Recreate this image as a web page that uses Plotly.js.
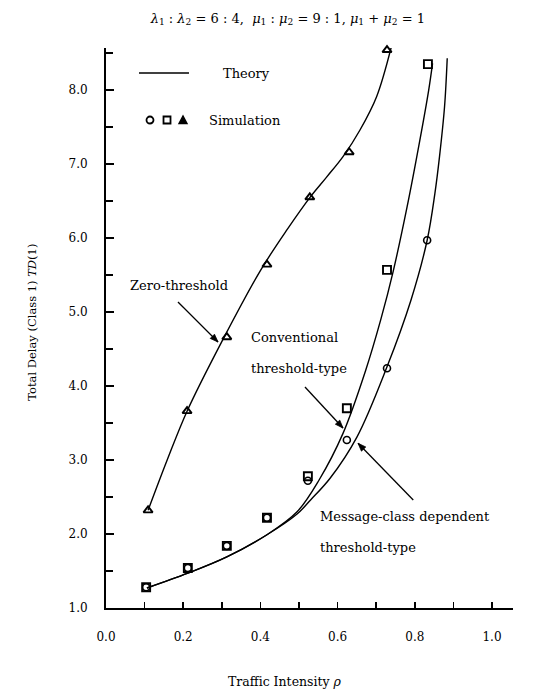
<!DOCTYPE html>
<html>
<head>
<meta charset="utf-8">
<script src="https://cdn.plot.ly/plotly-3.0.1.min.js"></script>
<style>html,body{margin:0;padding:0;background:#fff;}#chart{width:540px;height:694px;}</style>
</head>
<body>
<div id="chart"></div>
<script>
// ---- Theory curves ----
var rhoZeroTheory = [0.109, 0.160, 0.210, 0.300, 0.400, 0.470, 0.530, 0.571, 0.614, 0.658, 0.701, 0.740];
var tdZeroTheory  = [2.32, 3.02, 3.66, 4.60, 5.56, 6.12, 6.56, 6.82, 7.10, 7.46, 7.91, 8.60];

var rhoConvTheory = [0.106, 0.212, 0.313, 0.417, 0.495, 0.552, 0.614, 0.672, 0.712, 0.744, 0.780, 0.813, 0.836, 0.846];
var tdConvTheory  = [1.27, 1.47, 1.69, 1.99, 2.30, 2.73, 3.36, 4.20, 4.90, 5.55, 6.42, 7.32, 8.00, 8.36];

var rhoMsgTheory  = [0.106, 0.212, 0.313, 0.417, 0.495, 0.530, 0.580, 0.650, 0.728, 0.790, 0.832, 0.852, 0.864, 0.877, 0.884];
var tdMsgTheory   = [1.27, 1.47, 1.69, 1.99, 2.27, 2.46, 2.75, 3.31, 4.26, 5.16, 5.97, 6.60, 7.10, 7.77, 8.43];

// ---- Simulation points ----
var rhoTriSim  = [0.109, 0.210, 0.313, 0.417, 0.528, 0.630, 0.728];
var tdZeroSim  = [2.32, 3.66, 4.66, 5.64, 6.55, 7.16, 8.54];

var rhoSqSim   = [0.104, 0.212, 0.313, 0.417, 0.523, 0.624, 0.728, 0.834];
var tdConvSim  = [1.28, 1.54, 1.84, 2.22, 2.78, 3.70, 5.57, 8.35];

var rhoCircSim = [0.104, 0.212, 0.313, 0.417, 0.523, 0.624, 0.728, 0.832];
var tdMsgSim   = [1.28, 1.54, 1.84, 2.22, 2.72, 3.27, 4.24, 5.97];

var xTickVals = [0.0, 0.2, 0.4, 0.6, 0.8, 1.0];
var yTickVals = [1, 2, 3, 4, 5, 6, 7, 8];

var serif = 'DejaVu Serif, Liberation Serif, serif';
var lineStyle = {color: 'black', width: 1.4, shape: 'spline', smoothing: 1};

var traces = [
  {x: rhoZeroTheory, y: tdZeroTheory, mode: 'lines', line: lineStyle, hoverinfo: 'skip'},
  {x: rhoConvTheory, y: tdConvTheory, mode: 'lines', line: lineStyle, hoverinfo: 'skip'},
  {x: rhoMsgTheory,  y: tdMsgTheory,  mode: 'lines', line: lineStyle, hoverinfo: 'skip'},
  {x: rhoSqSim, y: tdConvSim, mode: 'markers', cliponaxis: false,
   marker: {symbol: 'square-open', size: 8, color: 'black', line: {width: 1.9, color: 'black'}}},
  {x: rhoCircSim, y: tdMsgSim, mode: 'markers', cliponaxis: false,
   marker: {symbol: 'circle-open', size: 7, color: 'black', line: {width: 1.6, color: 'black'}}},
  {x: rhoTriSim, y: tdZeroSim, mode: 'markers', cliponaxis: false,
   marker: {symbol: 'triangle-up-open', size: 8, color: 'black', line: {width: 1.9, color: 'black'}}}
];

function txt(x, y, text, xanchor, size) {
  return {xref: 'x', yref: 'y', x: x, y: y, text: text, showarrow: false,
          xanchor: xanchor || 'left', yanchor: 'middle',
          font: {family: serif, size: size || 13, color: 'black'}};
}

var annotations = [
  txt(0.298, 8.23, 'Theory'),
  txt(0.2617, 7.595, 'Simulation'),
  txt(0.189, 5.365, 'Zero-threshold', 'center'),
  txt(0.3705, 4.649, 'Conventional'),
  txt(0.3705, 4.23, 'threshold-type'),
  txt(0.549, 2.23, 'Message-class dependent'),
  txt(0.549, 1.824, 'threshold-type'),
  {xref: 'paper', yref: 'paper', x: 0.44, y: -0.132, text: 'Traffic Intensity <i>ρ</i>',
   showarrow: false, xanchor: 'center', yanchor: 'middle',
   font: {family: serif, size: 12.5, color: 'black'}},
  {xref: 'paper', yref: 'paper', x: -0.182, y: 0.511, text: 'Total Delay (Class 1) <i>TD</i>(1)',
   showarrow: false, xanchor: 'center', yanchor: 'middle', textangle: -90,
   font: {family: serif, size: 11.5, color: 'black'}}
];

// pointer arrows: line from tail to tip plus a filled head (pixel-sized, anchored at tip)
function pointer(tx, ty, hx, hy, headPath) {
  return [
    {type: 'line', xref: 'x', yref: 'y', x0: tx, y0: ty, x1: hx, y1: hy,
     line: {color: 'black', width: 1.3}},
    {type: 'path', xref: 'x', yref: 'y', xsizemode: 'pixel', ysizemode: 'pixel',
     xanchor: hx, yanchor: hy, path: headPath, fillcolor: 'black', line: {color: 'black', width: 0.8}}
  ];
}

// legend sample glyphs (paper coords, pixel-sized)
var legY = 0.8714;
var shapes = [
  {type: 'line', xref: 'paper', yref: 'paper', x0: 0.0811, x1: 0.2039, y0: 0.9554, y1: 0.9554,
   line: {color: 'black', width: 1.6}},
  {type: 'circle', xref: 'paper', yref: 'paper', xsizemode: 'pixel', ysizemode: 'pixel',
   xanchor: 0.1081, yanchor: legY, x0: -3.5, x1: 3.5, y0: -3.5, y1: 3.5,
   line: {color: 'black', width: 1.8}},
  {type: 'rect', xref: 'paper', yref: 'paper', xsizemode: 'pixel', ysizemode: 'pixel',
   xanchor: 0.1499, yanchor: legY, x0: -3.5, x1: 3.5, y0: -3.5, y1: 3.5,
   line: {color: 'black', width: 1.8}},
  {type: 'path', xref: 'paper', yref: 'paper', xsizemode: 'pixel', ysizemode: 'pixel',
   xanchor: 0.1892, yanchor: legY, path: 'M -4 -3.5 L 4 -3.5 L 0 4 Z',
   fillcolor: 'black', line: {color: 'black', width: 1.4}}
].concat(
  pointer(0.1865, 5.135, 0.2902, 4.595, 'M 0 0 L -3.54 7.78 L -7.78 3.54 Z'),
  pointer(0.5155, 3.986, 0.614, 3.432, 'M 0 0 L -3.24 7.91 L -7.64 3.83 Z'),
  pointer(0.796, 2.459, 0.653, 3.226, 'M 0 0 L 3.39 -7.84 L 7.71 -3.68 Z')
);

var axisCommon = {
  showgrid: false, zeroline: false, showline: true, linecolor: 'black', linewidth: 2,
  ticks: 'inside', tickcolor: 'black', tickwidth: 1.5, tickformat: '.1f',
  tickfont: {family: serif, size: 12, color: 'black'}, fixedrange: true
};

var layout = {
  width: 540, height: 694,
  margin: {l: 106, r: 27, t: 48, b: 86},
  paper_bgcolor: 'white', plot_bgcolor: 'white',
  showlegend: false,
  title: {text: '<i>λ</i><sub>1</sub> : <i>λ</i><sub>2</sub> = 6 : 4,  <i>μ</i><sub>1</sub> : <i>μ</i><sub>2</sub> = 9 : 1, <i>μ</i><sub>1</sub> + <i>μ</i><sub>2</sub> = 1',
          x: 0.533, xref: 'container', xanchor: 'center', y: 0.974, yref: 'container', yanchor: 'middle',
          font: {family: serif, size: 13, color: 'black'}},
  xaxis: Object.assign({}, axisCommon, {
    range: [0, 1.0544], tickvals: xTickVals, ticklen: 6, ticklabelstandoff: 17,
    minor: {dtick: 0.1, tick0: 0, ticks: 'inside', ticklen: 6, tickwidth: 1.5, tickcolor: 'black', showgrid: false}
  }),
  yaxis: Object.assign({}, axisCommon, {
    range: [1, 8.568], tickvals: yTickVals, ticklen: 8, ticklabelstandoff: 14,
    minor: {dtick: 0.5, tick0: 0, ticks: 'inside', ticklen: 7, tickwidth: 1.5, tickcolor: 'black', showgrid: false}
  }),
  annotations: annotations,
  shapes: shapes
};

Plotly.newPlot('chart', traces, layout, {displayModeBar: false, staticPlot: true});
</script>
</body>
</html>
